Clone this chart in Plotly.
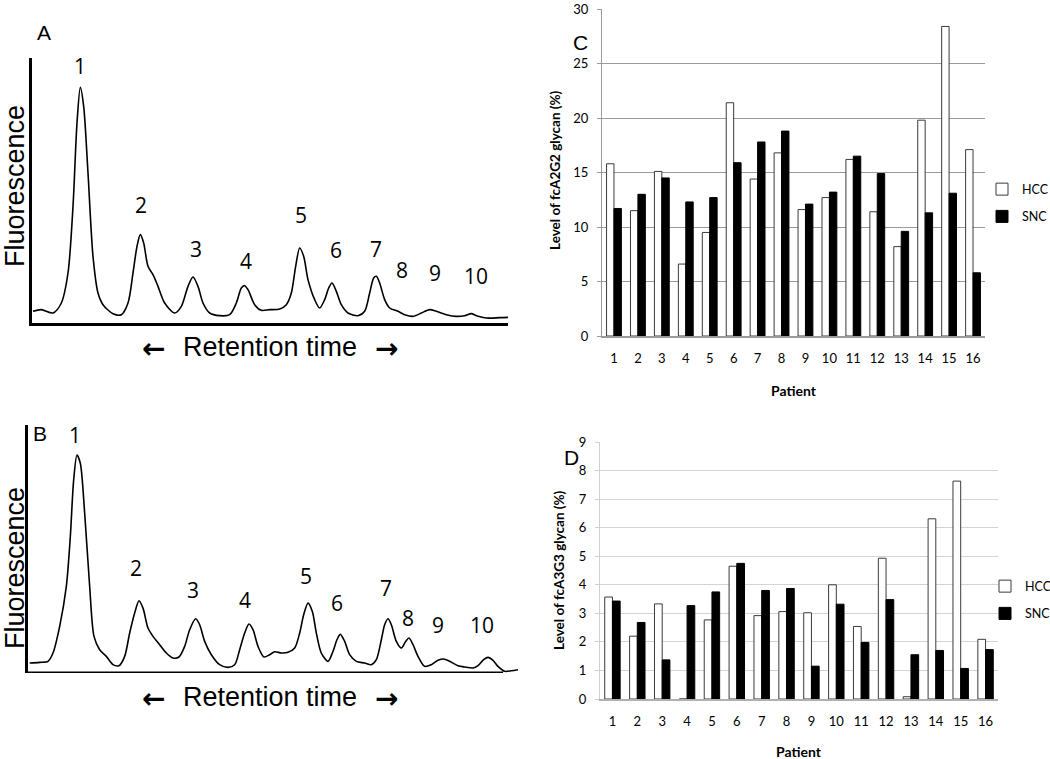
import plotly.graph_objects as go

W, H = 1050, 759

# ---------------- data ----------------
patients = [str(p) for p in range(1, 17)]
a2g2_hcc = [15.8, 11.5, 15.1, 6.6, 9.5, 21.4, 14.4, 16.8, 11.6, 12.7, 16.2, 11.4, 8.2, 19.8, 28.4, 17.1]
a2g2_snc = [11.7, 13.0, 14.5, 12.3, 12.7, 15.9, 17.8, 18.8, 12.1, 13.2, 16.5, 14.9, 9.6, 11.3, 13.1, 5.8]
a3g3_hcc = [3.57, 2.20, 3.33, 0.0, 2.77, 4.65, 2.92, 3.06, 3.02, 4.00, 2.54, 4.93, 0.08, 6.31, 7.63, 2.09]
a3g3_snc = [3.43, 2.68, 1.37, 3.27, 3.75, 4.75, 3.80, 3.87, 1.15, 3.32, 1.98, 3.48, 1.55, 1.70, 1.07, 1.73]

# chromatogram A (arbitrary retention / fluorescence units)
rt_A = [3, 28, 63, 88, 108, 123, 135, 145, 155, 168, 183, 198, 213, 243, 268, 288, 303, 315, 325, 335,
        348, 363, 378, 398, 428, 448, 468, 483, 498, 513, 533, 563, 593, 613, 628, 638, 648, 668, 688, 713,
        743, 763, 778, 791, 803, 815, 828, 848, 863, 878, 890, 900, 913, 928, 948, 978, 998, 1013, 1025, 1033,
        1043, 1058, 1073, 1098, 1118, 1143, 1168, 1193, 1213, 1243, 1273, 1298, 1318, 1333, 1363, 1403, 1428]
fl_A = [35, 40, 30, 60, 150, 350, 600, 707, 650, 450, 200, 90, 55, 28, 25, 60, 150, 230, 265, 240,
        170, 145, 110, 60, 30, 50, 110, 138, 110, 60, 30, 22, 25, 60, 105, 112, 100, 55, 38, 40,
        42, 55, 90, 170, 225, 200, 130, 70, 45, 70, 105, 120, 95, 55, 30, 22, 35, 90, 135, 140,
        120, 70, 45, 35, 25, 20, 30, 40, 35, 25, 20, 22, 28, 22, 15, 16, 17]

# chromatogram B
rt_B = [5, 35, 60, 75, 95, 115, 127, 137, 147, 157, 170, 185, 198, 215, 235, 255, 273, 290, 305, 320,
        333, 345, 360, 375, 395, 415, 435, 453, 470, 485, 503, 515, 530, 550, 575, 600, 620, 635, 650, 663,
        675, 690, 708, 725, 740, 760, 780, 800, 815, 827, 840, 853, 865, 880, 900, 915, 927, 937, 950, 965,
        985, 1010, 1030, 1045, 1060, 1070, 1080, 1090, 1105, 1120, 1133, 1143, 1155, 1170, 1190, 1210, 1230, 1247,
        1265, 1290, 1310, 1335, 1350, 1367, 1380, 1395, 1410, 1430, 1450, 1470]
fl_B = [30, 32, 35, 60, 140, 260, 410, 580, 655, 630, 480, 260, 110, 70, 50, 25, 22, 50, 120, 180,
        217, 195, 135, 110, 85, 60, 45, 48, 80, 130, 163, 145, 95, 55, 25, 17, 25, 70, 120, 147,
        130, 80, 48, 55, 64, 60, 62, 75, 120, 175, 210, 185, 120, 60, 35, 65, 100, 116, 95, 55,
        35, 30, 25, 40, 100, 145, 163, 145, 95, 75, 95, 105, 85, 50, 20, 25, 38, 42,
        35, 22, 18, 15, 22, 40, 47, 38, 20, 5, 7, 10]

peak_names = ["1", "2", "3", "4", "5", "6", "7", "8", "9", "10"]
label_rt_A = [143, 328, 493, 641, 808, 913, 1033, 1111, 1208, 1333]
label_fl_A = [770, 355, 222, 185, 325, 220, 222, 160, 150, 140]
label_rt_B = [140, 323, 495, 650, 833, 927, 1075, 1140, 1230, 1363]
label_fl_B = [715, 315, 250, 220, 290, 210, 255, 165, 145, 145]


def fx(p):
    return p / W


def fy(p):
    return 1 - p / H


fig = go.Figure()

# chromatograms
fig.add_trace(go.Scatter(x=rt_A, y=fl_A, mode="lines", line=dict(color="black", width=1.6, shape="spline", smoothing=0.8),
                         xaxis="x", yaxis="y", showlegend=False, hoverinfo="skip"))
fig.add_trace(go.Scatter(x=rt_B, y=fl_B, mode="lines", line=dict(color="black", width=1.6, shape="spline", smoothing=0.8),
                         xaxis="x2", yaxis="y2", showlegend=False, hoverinfo="skip"))

# bars C
fig.add_trace(go.Bar(x=patients, y=a2g2_hcc, name="HCC", marker=dict(color="white", line=dict(color="#3a3a3a", width=1)),
                     xaxis="x3", yaxis="y3", legend="legend", legendgroup="HCC"))
fig.add_trace(go.Bar(x=patients, y=a2g2_snc, name="SNC", marker=dict(color="black", line=dict(color="black", width=1)),
                     xaxis="x3", yaxis="y3", legend="legend", legendgroup="SNC"))
# bars D
fig.add_trace(go.Bar(x=patients, y=a3g3_hcc, name="HCC", marker=dict(color="white", line=dict(color="#3a3a3a", width=1)),
                     xaxis="x4", yaxis="y4", legend="legend2", legendgroup="HCC"))
fig.add_trace(go.Bar(x=patients, y=a3g3_snc, name="SNC", marker=dict(color="black", line=dict(color="black", width=1)),
                     xaxis="x4", yaxis="y4", legend="legend2", legendgroup="SNC"))

hidden = dict(showgrid=False, zeroline=False, showticklabels=False, ticks="", automargin=False)

tickfont = dict(family="Lato", size=13, color="black")
legfont = dict(family="Lato", size=12.5, color="black")

fig.update_layout(
    template="none",
    width=W, height=H, autosize=False,
    margin=dict(l=0, r=0, t=0, b=0, pad=0, autoexpand=False),
    paper_bgcolor="white", plot_bgcolor="white",
    barmode="group", bargap=0.38, bargroupgap=0,
    xaxis=dict(domain=[fx(32), fx(508)], range=[0, 1428], anchor="y", showline=True, linecolor="black", linewidth=3, **hidden),
    yaxis=dict(domain=[fy(323), fy(58)], range=[0, 795], anchor="x", showline=True, linecolor="black", linewidth=3, **hidden),
    xaxis2=dict(domain=[fx(28), fx(518)], range=[0, 1470], anchor="y2", showline=False, **hidden),
    yaxis2=dict(domain=[fy(673), fy(425)], range=[0, 745], anchor="x2", showline=True, linecolor="black", linewidth=3, **hidden),
    xaxis3=dict(domain=[fx(602), fx(985)], anchor="y3", type="category", showline=True, linecolor="#9a9a9a", linewidth=1.5,
                showgrid=False, ticks="", tickfont=tickfont, ticklabelstandoff=10, automargin=False),
    yaxis3=dict(domain=[fy(336), fy(9)], anchor="x3", range=[0, 30], tickmode="array",
                tickvals=[0, 5, 10, 15, 20, 25, 30], showline=True, linecolor="#9a9a9a", linewidth=1,
                showgrid=True, gridcolor="#9a9a9a", gridwidth=1, zeroline=False, ticks="outside", ticklen=4, tickcolor="#9a9a9a",
                tickfont=tickfont, ticklabelstandoff=6, automargin=False),
    xaxis4=dict(domain=[fx(600), fx(998)], anchor="y4", type="category", showline=True, linecolor="#b0b0b0", linewidth=1.5,
                showgrid=False, ticks="", tickfont=tickfont, ticklabelstandoff=10, automargin=False),
    yaxis4=dict(domain=[fy(699), fy(442)], anchor="x4", range=[0, 9], dtick=1, showline=True, linecolor="#d0d0d0", linewidth=1,
                showgrid=True, gridcolor="#d3d3d3", gridwidth=1, zeroline=False, ticks="outside", ticklen=4, tickcolor="#d0d0d0",
                tickfont=tickfont, ticklabelstandoff=6, automargin=False),
    legend=dict(x=fx(982), y=fy(203), xanchor="left", yanchor="middle", font=legfont,
                tracegroupgap=8, bgcolor="rgba(0,0,0,0)", itemwidth=30),
    legend2=dict(x=fx(985), y=fy(600), xanchor="left", yanchor="middle", font=legfont,
                 tracegroupgap=8, bgcolor="rgba(0,0,0,0)", itemwidth=30),
    showlegend=True,
)

# B x-axis line (shorter than the trace)
fig.add_shape(type="line", xref="x2", yref="y2", x0=0, x1=1425, y0=0, y1=0, line=dict(color="black", width=3))

ann = []


def add(text, x, y, font, xref="paper", yref="paper", angle=0):
    ann.append(dict(x=x, y=y, xref=xref, yref=yref, text=text, showarrow=False, font=font,
                    xanchor="center", yanchor="middle", textangle=angle))


num_font = dict(family="Open Sans", size=21, color="black")
for name, xv, yv in zip(peak_names, label_rt_A, label_fl_A):
    add(name, xv, yv, num_font, "x", "y")
for name, xv, yv in zip(peak_names, label_rt_B, label_fl_B):
    add(name, xv, yv, num_font, "x2", "y2")

big = dict(family="Liberation Sans", size=27, color="black")
arrow_font = dict(family="DejaVu Sans", size=28, color="black", weight="bold")
for yc, fc in [(347, 186), (697, 568)]:
    add("Retention time", fx(270), fy(yc), big)
    add("←", fx(153), fy(yc + 1), arrow_font)
    add("→", fx(386), fy(yc + 1), arrow_font)
    add("Fluorescence", fx(15), fy(fc), big, angle=-90)

panel_font = dict(family="Liberation Sans", size=21, color="black")
for t, xp, yp in [("A", 44, 33), ("B", 40, 433), ("C", 580, 42), ("D", 571, 457)]:
    add(t, fx(xp), fy(yp), panel_font)

title_font = dict(family="Lato", size=13.5, color="black")
add("<b>Level of fcA2G2 glycan (%)</b>", fx(555), fy(170), title_font, angle=-90)
add("<b>Level of fcA3G3 glycan (%)</b>", fx(559), fy(570), title_font, angle=-90)
pat_font = dict(family="Lato", size=14, color="black")
add("<b>Patient</b>", fx(794), fy(390), pat_font)
add("<b>Patient</b>", fx(799), fy(751), pat_font)

fig.update_layout(annotations=ann)

# remove the default 8px page margin so the 1050x759 figure fills the window exactly
fig.write_html("out.html", config={"displayModeBar": False},
               post_script="document.body.style.margin='0';document.body.style.overflow='hidden';")
